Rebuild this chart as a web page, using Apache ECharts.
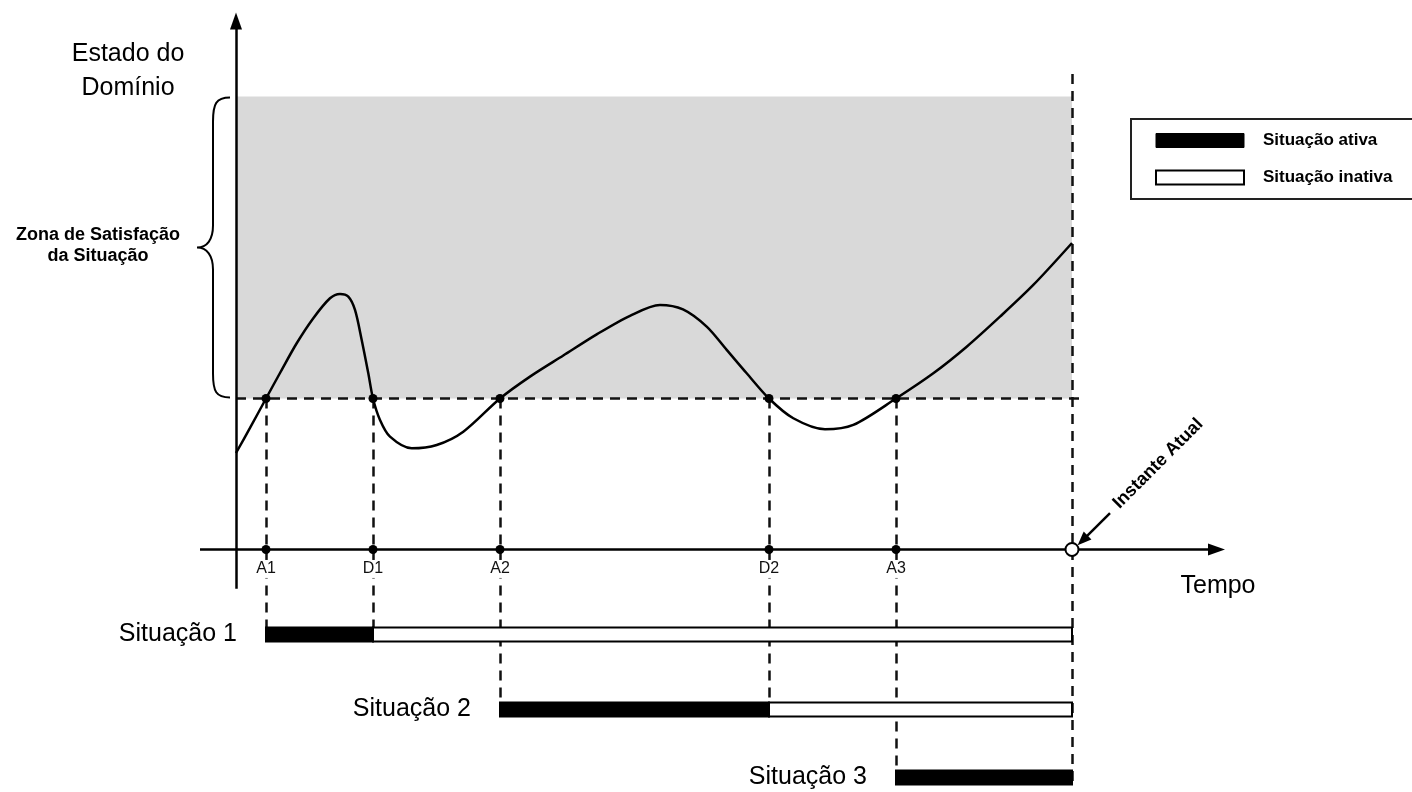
<!DOCTYPE html>
<html><head><meta charset="utf-8">
<script src="https://cdn.jsdelivr.net/npm/echarts@6/dist/echarts.min.js"></script>
<style>html,body{margin:0;padding:0;background:#fff}#c{width:1412px;height:792px}</style>
</head><body><div id="c"></div>
<script>
// ---------- data ----------
const eventNames = ['A1', 'D1', 'A2', 'D2', 'A3'];
const eventTimes = [3.0, 13.7, 26.4, 53.3, 66.0];
const eventRow = [0, 0, 1, 1, 2];           // situation row each event belongs to
const nowTime = 83.6;
const nowLabel = 'Instante Atual';
const threshold = 1;
const zoneTop = 3;
const curveTime = [0, 1.4, 3.0, 4.4, 6.07, 7.73, 9.4, 10.4, 11.23, 11.9, 12.57, 13.23, 13.7, 14.4, 15.4, 17.57, 20.07, 22.73, 26.4, 29.4, 32.73, 36.07, 39.4, 42.4, 44.7, 47.07, 49.07, 51.07, 53.3, 55.73, 58.9, 61.73, 66.0, 69.73, 73.07, 76.4, 79.73, 83.6];
const curveState = [0.639, 0.805, 1.0, 1.169, 1.366, 1.532, 1.664, 1.693, 1.675, 1.587, 1.388, 1.167, 1.0, 0.858, 0.747, 0.670, 0.692, 0.780, 1.0, 1.145, 1.285, 1.425, 1.548, 1.620, 1.590, 1.476, 1.322, 1.167, 1.0, 0.869, 0.796, 0.825, 1.0, 1.167, 1.343, 1.542, 1.752, 2.03];
const situationNames = ['Situação 1', 'Situação 2', 'Situação 3'];
const activeStart = [3.0, 26.4, 66.0];
const activeEnd = [13.7, 53.3, 83.6];
const inactiveStart = [13.7, 53.3, null];
const inactiveEnd = [83.6, 83.6, null];
const legendNames = ['Situação ativa', 'Situação inativa'];
const axisTitleY = 'Estado do\nDomínio';
const axisTitleX = 'Tempo';
const zoneTitle = 'Zona de Satisfação\nda Situação';

// ---------- layout ----------
const FONT = "'Liberation Sans', Arial, sans-serif";
const ROW_Y = [-0.563, -1.06, -1.51];
const X_MIN = -3.6, X_MAX = 98.9, Y_MIN = -1.6, Y_MAX = 3.6;
const DASH = { color: '#111', width: 2.5, type: [10, 7] };

const chart = echarts.init(document.getElementById('c'), null, { renderer: 'canvas' });

const activeData = activeStart.map((s, i) => [s, activeEnd[i], i]);
const inactiveData = inactiveStart.map((s, i) => s == null ? null : [s, inactiveEnd[i], i]).filter(d => d);

function barRender(fill, withLabel) {
  return function (params, api) {
    const s = api.value(0), e = api.value(1), r = api.value(2);
    const p0 = api.coord([s, ROW_Y[r]]), p1 = api.coord([e, ROW_Y[r]]);
    const h = 14;
    const el = {
      type: 'rect',
      shape: { x: p0[0], y: p0[1] - h / 2, width: p1[0] - p0[0], height: h },
      style: { fill: fill, stroke: '#000', lineWidth: 2 }
    };
    if (withLabel) {
      el.textContent = { style: { text: situationNames[r], fontSize: 25, fontFamily: FONT, fill: '#000' } };
      el.textConfig = { position: 'left', distance: 28 };
    }
    return el;
  };
}

const vLines = eventTimes.map((t, i) => [
  { coord: [t, threshold] }, { coord: [t, ROW_Y[eventRow[i]]] }
]);
vLines.push([{ coord: [nowTime, 3.15] }, { coord: [nowTime, ROW_Y[2] - 0.05] }]);
vLines.push([{ coord: [0, threshold] }, { coord: [nowTime + 1.4, threshold] }]);

const option = {
  animation: false,
  backgroundColor: '#fff',
  grid: { left: 200, top: 6, width: 1025, height: 785 },
  xAxis: { type: 'value', min: X_MIN, max: X_MAX, show: false },
  yAxis: { type: 'value', min: Y_MIN, max: Y_MAX, show: false },
  legend: {
    orient: 'vertical', left: 1131, top: 119,
    data: [
      { name: legendNames[0], icon: 'rect', itemStyle: { color: '#000', borderColor: '#000', borderWidth: 1 } },
      { name: legendNames[1], icon: 'rect', itemStyle: { color: '#fff', borderColor: '#000', borderWidth: 2 } }
    ],
    itemWidth: 88, itemHeight: 14, itemGap: 20,
    padding: [13, 40, 13, 24], borderColor: '#222', borderWidth: 2,
    textStyle: { fontFamily: FONT, fontWeight: 'bold', fontSize: 17, color: '#000', padding: [0, 0, 0, 14] },
    selectedMode: false
  },
  graphic: [
    { type: 'text', style: { x: 128, y: 37, text: axisTitleY, font: '25px ' + FONT, textAlign: 'center', textVerticalAlign: 'top', lineHeight: 34, fill: '#000' } },
    { type: 'text', style: { x: 1218, y: 586, text: axisTitleX, font: '25px ' + FONT, textAlign: 'center', textVerticalAlign: 'middle', fill: '#000' } },
    { type: 'text', style: { x: 98, y: 246, text: zoneTitle, font: 'bold 18px ' + FONT, textAlign: 'center', textVerticalAlign: 'middle', lineHeight: 21, fill: '#000' } }
  ],
  series: [
    { // satisfaction zone
      type: 'line', data: [], z: 1, silent: true,
      markArea: { silent: true, itemStyle: { color: '#d9d9d9' },
        data: [[{ coord: [0, threshold] }, { coord: [nowTime, zoneTop] }]] }
    },
    { // brace
      type: 'custom', z: 2, silent: true, data: [[0, threshold, zoneTop]],
      encode: { x: 0, y: [1, 2] },
      renderItem: function (params, api) {
        const pt = api.coord([api.value(0), api.value(2)]);
        const pb = api.coord([api.value(0), api.value(1)]);
        const x0 = pt[0] - 6, xs = x0 - 17, xp = x0 - 33;
        const yt = pt[1] + 1, yb = pb[1] - 1, ym = (yt + yb) / 2;
        const d = `M${x0},${yt} C${xs + 3},${yt} ${xs},${yt + 6} ${xs},${yt + 24} L${xs},${ym - 22} C${xs},${ym - 8} ${xs - 6},${ym} ${xp},${ym} C${xs - 6},${ym} ${xs},${ym + 8} ${xs},${ym + 22} L${xs},${yb - 24} C${xs},${yb - 6} ${xs + 3},${yb} ${x0},${yb}`;
        return { type: 'path', shape: { pathData: d }, style: { fill: 'none', stroke: '#000', lineWidth: 2 } };
      }
    },
    { // dashed guide lines
      type: 'line', data: [], z: 3, silent: true,
      markLine: { silent: true, symbol: 'none', label: { show: false }, lineStyle: DASH, data: vLines }
    },
    { // axes
      type: 'line', data: [], z: 4, silent: true,
      markLine: {
        silent: true, symbol: ['none', 'triangle'], symbolSize: [12, 17], label: { show: false },
        lineStyle: { color: '#000', width: 2.5, type: 'solid' },
        data: [
          [{ coord: [0, -0.26] }, { coord: [0, 3.5] }],
          [{ coord: [X_MIN, 0] }, { coord: [98.05, 0] }]
        ]
      }
    },
    { // domain state curve
      type: 'line', z: 5, silent: true, smooth: 0.3, showSymbol: false,
      data: curveTime.map((t, i) => [t, curveState[i]]),
      lineStyle: { color: '#000', width: 2.5 }
    },
    { // dots on threshold
      type: 'scatter', z: 6, silent: true, symbolSize: 9, itemStyle: { color: '#000', opacity: 1 },
      data: eventTimes.map(t => [t, threshold])
    },
    { // dots on time axis + labels
      type: 'scatter', z: 6, silent: true, symbolSize: 9, itemStyle: { color: '#000', opacity: 1 },
      data: eventTimes.map((t, i) => ({ value: [t, 0], name: eventNames[i] })),
      label: { show: true, position: 'bottom', distance: 6, formatter: '{b}', fontFamily: FONT, fontSize: 16, color: '#111',
        backgroundColor: '#fff', padding: [1, 1, 1, 1] }
    },
    { // current instant
      type: 'scatter', z: 7, silent: true, symbolSize: 13,
      itemStyle: { color: '#fff', borderColor: '#000', borderWidth: 2, opacity: 1 },
      data: [[nowTime, 0]],
      markLine: {
        silent: true, symbol: ['none', 'triangle'], symbolSize: [11, 14], label: { show: false },
        lineStyle: { color: '#000', width: 2.5, type: 'solid' },
        data: [[{ coord: [nowTime + 3.8, 0.24] }, { coord: [nowTime + 1.06, 0.06] }]]
      }
    },
    { // label "Instante Atual"
      type: 'scatter', z: 7, silent: true, symbol: 'circle', symbolSize: 1,
      itemStyle: { color: 'rgba(0,0,0,0)', opacity: 1 },
      data: [[nowTime + 4.4, 0.29]],
      label: { show: true, position: 'inside', formatter: nowLabel, rotate: 45, align: 'left', verticalAlign: 'middle',
        fontFamily: FONT, fontWeight: 'bold', fontSize: 18, color: '#000', opacity: 1 }
    },
    {
      name: legendNames[0], type: 'custom', z: 8, silent: true, data: activeData,
      encode: { x: [0, 1], y: 2 }, itemStyle: { color: '#000' },
      renderItem: barRender('#000', true)
    },
    {
      name: legendNames[1], type: 'custom', z: 8, silent: true, data: inactiveData,
      encode: { x: [0, 1], y: 2 }, itemStyle: { color: '#fff' },
      renderItem: barRender('#fff', false)
    }
  ]
};
chart.setOption(option);
</script></body></html>
